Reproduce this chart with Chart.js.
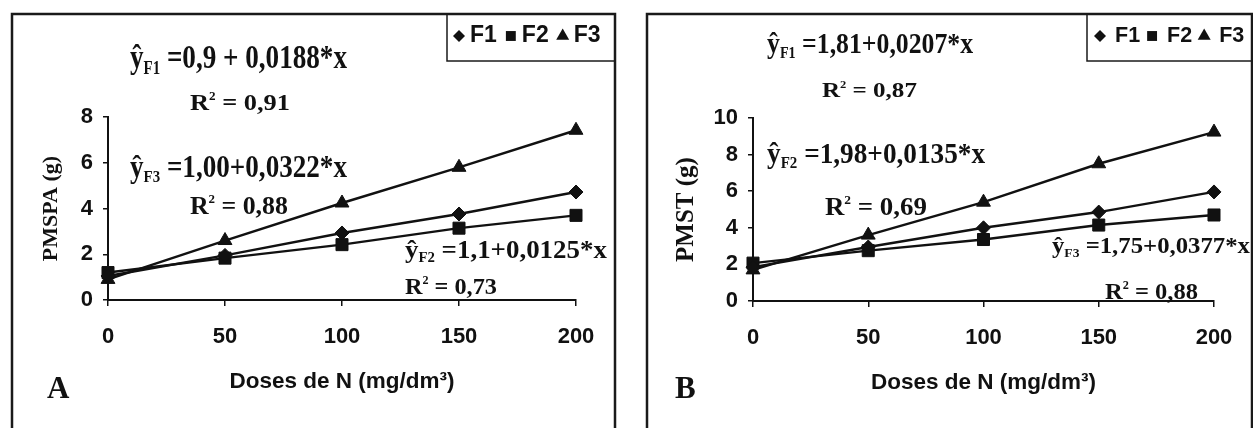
<!DOCTYPE html>
<html>
<head>
<meta charset="utf-8">
<script src="https://cdn.jsdelivr.net/npm/chart.js@4.4.0/dist/chart.umd.min.js"></script>
<style>
  html, body { margin: 0; padding: 0; background: #fff; }
  #wrap { position: relative; width: 1253px; height: 428px; overflow: hidden; }
  canvas { position: absolute; top: 0; }
</style>
</head>
<body>
<div id="wrap">
  <canvas id="chartA" width="626" height="428" style="left:0;width:626px;height:428px"></canvas>
  <canvas id="chartB" width="627" height="428" style="left:626px;width:627px;height:428px"></canvas>
</div>
<script>
// doses of N (mg/dm3)
const doses = [0, 50, 100, 150, 200];
const xTicks = [0, 50, 100, 150, 200];
const seriesNames = ["F1", "F2", "F3"];

// panel A - PMSPA (g)
const pmspaF1 = [1.05, 1.95, 2.93, 3.76, 4.72];
const pmspaF2 = [1.2, 1.83, 2.42, 3.14, 3.7];
const pmspaF3 = [0.9, 2.6, 4.24, 5.8, 7.42];
const yTicksA = [0, 2, 4, 6, 8];
const eqA = ["=0,9 + 0,0188*x", "=1,1+0,0125*x", "=1,00+0,0322*x"];
const r2A = ["0,91", "0,73", "0,88"];

// panel B - PMST (g)
const pmstF1 = [1.85, 2.95, 4.0, 4.86, 5.96];
const pmstF2 = [2.07, 2.75, 3.36, 4.15, 4.7];
const pmstF3 = [1.7, 3.6, 5.4, 7.5, 9.23];
const yTicksB = [0, 2, 4, 6, 8, 10];
const eqB = ["=1,81+0,0207*x", "=1,98+0,0135*x", "=1,75+0,0377*x"];
const r2B = ["0,87", "0,69", "0,88"];

const xTitle = "Doses de N (mg/dm³)";
const ink = "#111";
const sans = '"Liberation Sans", Arial, sans-serif';
const serif = '"Liberation Serif", "Times New Roman", serif';
const markerStyles = ["rectRot", "rect", "triangle"];
const markerSizes = [7, 8.5, 8];
const legendSizes = [6, 7, 7.5];

function lineSet(i, values) {
    return {
        label: seriesNames[i],
        data: doses.map((d, k) => ({ x: d, y: values[k] })),
        borderColor: ink,
        backgroundColor: ink,
        borderWidth: 2.4,
        tension: 0,
        clip: false,
        pointStyle: markerStyles[i],
        pointRadius: markerSizes[i],
        pointBackgroundColor: ink,
        pointBorderColor: ink,
        pointBorderWidth: 1,
    };
}

function eqParts(i, rhs) {
    return [{ t: "ŷ" }, { t: seriesNames[i], kind: "sub" }, { t: " " + rhs }];
}
function r2Parts(v) {
    return [{ t: "R" }, { t: "2", kind: "sup" }, { t: " = " + v }];
}

function drawNote(ctx, parts, px, py, size, width) {
    const font = s => `bold ${s}px ${serif}`;
    const spec = parts.map(p => {
        const s = p.kind === "sub" ? size * 0.55 : p.kind === "sup" ? size * 0.5 : size;
        ctx.font = font(s);
        const dy = p.kind === "sub" ? size * 0.17 : p.kind === "sup" ? -size * 0.42 : 0;
        return { t: p.t, s, dy, w: ctx.measureText(p.t).width };
    });
    const total = spec.reduce((a, p) => a + p.w, 0);
    ctx.save();
    ctx.translate(px, py);
    ctx.scale(width / total, 1);
    let cx = 0;
    for (const p of spec) {
        ctx.font = font(p.s);
        ctx.fillText(p.t, cx, p.dy);
        cx += p.w;
    }
    ctx.restore();
}

function drawMarker(ctx, style, cx, cy, r) {
    ctx.beginPath();
    if (style === "rectRot") {
        ctx.moveTo(cx - r, cy); ctx.lineTo(cx, cy - r);
        ctx.lineTo(cx + r, cy); ctx.lineTo(cx, cy + r);
    } else if (style === "rect") {
        const h = r * Math.SQRT1_2;
        ctx.rect(cx - h, cy - h, 2 * h, 2 * h);
    } else {
        ctx.moveTo(cx, cy - r);
        ctx.lineTo(cx + r * 0.866, cy + r * 0.5);
        ctx.lineTo(cx - r * 0.866, cy + r * 0.5);
    }
    ctx.closePath();
    ctx.fill();
}

// equations sit under the lines
const notesPlugin = {
    id: "notes",
    beforeDatasetsDraw(chart, args, opts) {
        const { ctx, scales: { x, y } } = chart;
        ctx.save();
        ctx.fillStyle = ink;
        ctx.textBaseline = "alphabetic";
        for (const n of opts.items) {
            drawNote(ctx, n.parts, x.getPixelForValue(n.x), y.getPixelForValue(n.y), n.size, n.width);
        }
        ctx.restore();
    }
};

// outer frame, legend box and panel letter
const framePlugin = {
    id: "frame",
    afterDraw(chart, args, opts) {
        const ctx = chart.ctx;
        const f = opts.box, lg = opts.legend;
        ctx.save();
        ctx.strokeStyle = "#1a1a1a";
        ctx.lineWidth = 2.5;
        ctx.beginPath();
        ctx.moveTo(f.left, chart.height + 2);
        ctx.lineTo(f.left, f.top);
        ctx.lineTo(f.right, f.top);
        ctx.lineTo(f.right, chart.height + 2);
        ctx.stroke();

        ctx.lineWidth = 1.5;
        ctx.strokeRect(lg.left, f.top, f.right - lg.left, lg.bottom - f.top);

        ctx.fillStyle = ink;
        ctx.font = `bold ${lg.size}px ${sans}`;
        ctx.textBaseline = "middle";
        let cx = lg.left + lg.pad;
        chart.data.datasets.forEach((ds, i) => {
            drawMarker(ctx, ds.pointStyle, cx, lg.y, legendSizes[i]);
            const tx = cx + lg.toText;
            ctx.fillText(ds.label, tx, lg.y);
            cx = tx + ctx.measureText(ds.label).width + lg.toMark;
        });

        ctx.font = `bold ${opts.letter.size}px ${serif}`;
        ctx.textBaseline = "alphabetic";
        ctx.fillText(opts.letter.text, opts.letter.x, opts.letter.y);
        ctx.restore();
    }
};

function makeChart(id, sets, yTicks, yTitle, p) {
    const tickFont = { family: sans, weight: "bold", size: 22 };
    return new Chart(document.getElementById(id), {
        type: "line",
        data: { datasets: sets },
        options: {
            responsive: false,
            animation: false,
            layout: { padding: p.padding },
            plugins: {
                legend: { display: false },
                tooltip: { enabled: false },
                notes: { items: p.notes },
                frame: p.frame,
            },
            scales: {
                x: {
                    type: "linear",
                    min: xTicks[0],
                    max: xTicks[xTicks.length - 1],
                    afterBuildTicks: s => { s.ticks = xTicks.map(v => ({ value: v })); },
                    afterFit: s => { s.height = p.xHeight; },
                    border: { color: ink, width: 2 },
                    grid: { drawOnChartArea: false, drawTicks: true, tickLength: 6, color: ink, lineWidth: 1.5 },
                    ticks: { font: tickFont, color: ink, padding: 18, maxRotation: 0, autoSkip: false },
                    title: { display: true, text: xTitle, color: ink, padding: 0,
                             font: { family: sans, weight: "bold", size: 22.5 } },
                },
                y: {
                    type: "linear",
                    min: yTicks[0],
                    max: yTicks[yTicks.length - 1],
                    afterBuildTicks: s => { s.ticks = yTicks.map(v => ({ value: v })); },
                    afterFit: s => { s.width = p.yWidth; },
                    border: { color: ink, width: 2 },
                    grid: { drawOnChartArea: false, drawTicks: true, tickLength: 5, color: ink, lineWidth: 1.5 },
                    ticks: { font: tickFont, color: ink, padding: 10 },
                    title: { display: true, text: yTitle, color: ink, padding: 0,
                             font: { family: serif, weight: "bold", size: p.yTitleSize } },
                },
            },
        },
        plugins: [notesPlugin, framePlugin],
    });
}

makeChart("chartA",
    [lineSet(0, pmspaF1), lineSet(1, pmspaF2), lineSet(2, pmspaF3)],
    yTicksA, "PMSPA (g)", {
        padding: { left: 38, right: 50, top: 117, bottom: 33 },
        yWidth: 70, xHeight: 95, yTitleSize: 22,
        notes: [
            { parts: eqParts(0, eqA[0]), x: 9.4, y: 10.14, size: 33, width: 217 },
            { parts: r2Parts(r2A[0]), x: 35, y: 8.31, size: 24, width: 100 },
            { parts: eqParts(2, eqA[2]), x: 9.4, y: 5.38, size: 32, width: 217 },
            { parts: r2Parts(r2A[2]), x: 35, y: 3.76, size: 25, width: 98 },
            { parts: eqParts(1, eqA[1]), x: 126.9, y: 1.84, size: 25, width: 202 },
            { parts: r2Parts(r2A[1]), x: 126.9, y: 0.26, size: 24, width: 92 },
        ],
        frame: {
            box: { left: 12, top: 14, right: 615 },
            legend: { left: 447, bottom: 61, y: 36, size: 23, pad: 12, toText: 11, toMark: 14 },
            letter: { text: "A", x: 47, y: 398, size: 31 },
        },
    });

makeChart("chartB",
    [lineSet(0, pmstF1), lineSet(1, pmstF2), lineSet(2, pmstF3)],
    yTicksB, "PMST (g)", {
        padding: { left: 46, right: 39, top: 118, bottom: 32 },
        yWidth: 81, xHeight: 95, yTitleSize: 25,
        notes: [
            { parts: eqParts(0, eqB[0]), x: 6.1, y: 13.55, size: 30, width: 206 },
            { parts: r2Parts(r2B[0]), x: 29.9, y: 11.15, size: 22, width: 95 },
            { parts: eqParts(1, eqB[1]), x: 6.1, y: 7.54, size: 30, width: 218 },
            { parts: r2Parts(r2B[1]), x: 31.2, y: 4.7, size: 25, width: 102 },
            { parts: eqParts(2, eqB[2]), x: 129.7, y: 2.62, size: 23, width: 198 },
            { parts: r2Parts(r2B[2]), x: 152.7, y: 0.11, size: 24, width: 93 },
        ],
        frame: {
            box: { left: 21, top: 14, right: 626 },
            legend: { left: 461, bottom: 61, y: 36, size: 21.5, pad: 13, toText: 15, toMark: 12 },
            letter: { text: "B", x: 49, y: 398, size: 31 },
        },
    });
</script>
</body>
</html>
